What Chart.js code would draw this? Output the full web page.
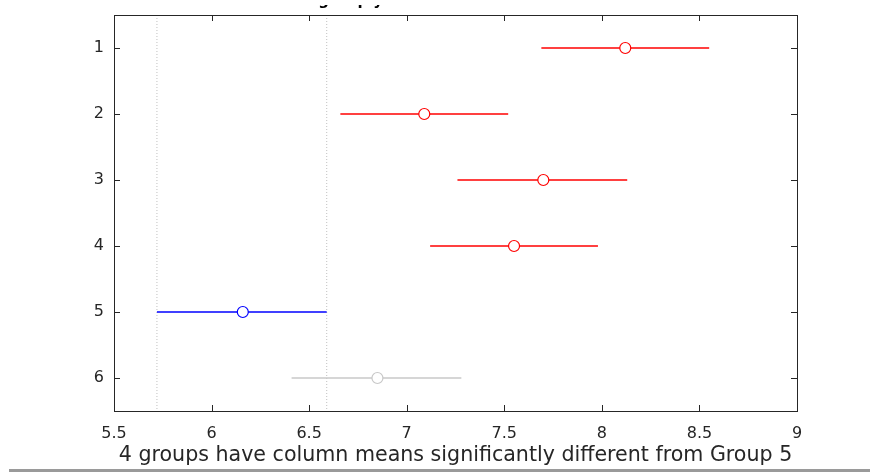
<!DOCTYPE html>
<html>
<head>
<meta charset="utf-8">
<script src="https://cdn.jsdelivr.net/npm/chart.js@4.4.1/dist/chart.umd.min.js"></script>
<style>
  html, body { margin: 0; padding: 0; background: #ffffff; }
  #wrap { position: relative; width: 870px; height: 472px; overflow: hidden; }
  #c { display: block; position: absolute; left: 0; top: 0; }
  #bar { position: absolute; left: 9px; top: 469px; width: 861px; height: 3px; background: #9a9a9a; }
</style>
</head>
<body>
<div id="wrap">
  <canvas id="c" width="870" height="472"></canvas>
  <div id="bar"></div>
</div>
<script>
// ---- data ----
const groups = [1, 2, 3, 4, 5, 6];
const means  = [8.12, 7.09, 7.70, 7.55, 6.16, 6.85];
const lower  = [7.69, 6.66, 7.26, 7.12, 5.72, 6.41];
const upper  = [8.55, 7.52, 8.13, 7.98, 6.59, 7.28];
const groupColors = ['#ff0000', '#ff0000', '#ff0000', '#ff0000', '#0000ff', '#c8c8c8'];
const xTicks = [5.5, 6, 6.5, 7, 7.5, 8, 8.5, 9];
const selectedGroup = 5;
const titleText = 'Click on the group you want to test';
const xLabel = '4 groups have column means significantly different from Group 5';

const FONT = "'DejaVu Sans', sans-serif";
const AX = '#262626';

const datasets = [];
// reference lines at the interval bounds of the selected group
const si = groups.indexOf(selectedGroup);
[lower[si], upper[si]].forEach(v => {
  datasets.push({
    type: 'line',
    data: [{x: v, y: 0.5}, {x: v, y: 6.5}],
    borderColor: '#c0c0c0',
    borderWidth: 1,
    borderDash: [1, 2],
    pointRadius: 0,
    order: 3
  });
});
// interval lines
groups.forEach((g, i) => {
  datasets.push({
    type: 'line',
    data: [{x: lower[i], y: g}, {x: upper[i], y: g}],
    borderColor: groupColors[i],
    borderWidth: 1.6,
    pointRadius: 0,
    order: 2
  });
});
// means
datasets.push({
  type: 'scatter',
  data: groups.map((g, i) => ({x: means[i], y: g})),
  pointStyle: 'circle',
  pointRadius: 5.5,
  pointBorderWidth: 1.2,
  pointBorderColor: groupColors,
  pointBackgroundColor: '#ffffff',
  order: 1
});

const boxPlugin = {
  id: 'box',
  afterDatasetsDraw(chart) {
    const {ctx, chartArea: a, scales: {x, y}} = chart;
    ctx.save();
    ctx.strokeStyle = AX;
    ctx.lineWidth = 1;
    ctx.beginPath();
    const tl = 6;
    x.ticks.forEach(t => {
      const px = Math.round(x.getPixelForValue(t.value)) + 0.5;
      ctx.moveTo(px, a.bottom); ctx.lineTo(px, a.bottom - tl);
      ctx.moveTo(px, a.top); ctx.lineTo(px, a.top + tl);
    });
    y.ticks.forEach(t => {
      const py = Math.round(y.getPixelForValue(t.value)) + 0.5;
      ctx.moveTo(a.left, py); ctx.lineTo(a.left + tl, py);
      ctx.moveTo(a.right, py); ctx.lineTo(a.right - tl, py);
    });
    ctx.stroke();
    ctx.strokeRect(Math.round(a.left) + 0.5, Math.round(a.top) + 0.5,
                   Math.round(a.right - a.left), Math.round(a.bottom - a.top));
    // title (mostly cut off at the top edge, as in the reference)
    ctx.beginPath();
    ctx.rect(0, 5, chart.width, 10);
    ctx.clip();
    ctx.fillStyle = '#000000';
    ctx.font = "bold 15px " + FONT;
    ctx.textAlign = 'center';
    ctx.textBaseline = 'alphabetic';
    ctx.fillText(titleText, 363, 5.3);
    ctx.restore();
  }
};

new Chart(document.getElementById('c'), {
  data: { datasets },
  options: {
    responsive: false,
    animation: false,
    events: [],
    layout: { autoPadding: false, padding: { left: 0, right: 73, top: 15, bottom: 0 } },
    plugins: { legend: { display: false }, tooltip: { enabled: false }, title: { display: false } },
    scales: {
      x: {
        type: 'linear',
        min: 5.5, max: 9,
        afterBuildTicks: s => { s.ticks = xTicks.map(v => ({value: v})); },
        afterFit: s => { s.height = 61; s.paddingLeft = 0; s.paddingRight = 0; },
        grid: { display: false, drawTicks: false },
        border: { display: false },
        ticks: { color: AX, font: { family: FONT, size: 16 }, padding: 13, maxRotation: 0,
                 callback: v => String(v) },
        title: { display: true, text: xLabel, color: AX, font: { family: FONT, size: 20.6 },
                 padding: { top: 0, bottom: 4 } }
      },
      y: {
        type: 'linear',
        min: 0.5, max: 6.5,
        reverse: true,
        afterBuildTicks: s => { s.ticks = groups.map(v => ({value: v})); },
        afterFit: s => { s.width = 114; s.paddingTop = 0; s.paddingBottom = 0; },
        grid: { display: false, drawTicks: false },
        border: { display: false },
        ticks: { color: AX, font: { family: FONT, size: 16 }, padding: 10,
                 callback: v => String(v) }
      }
    }
  },
  plugins: [boxPlugin]
});
</script>
</body>
</html>
